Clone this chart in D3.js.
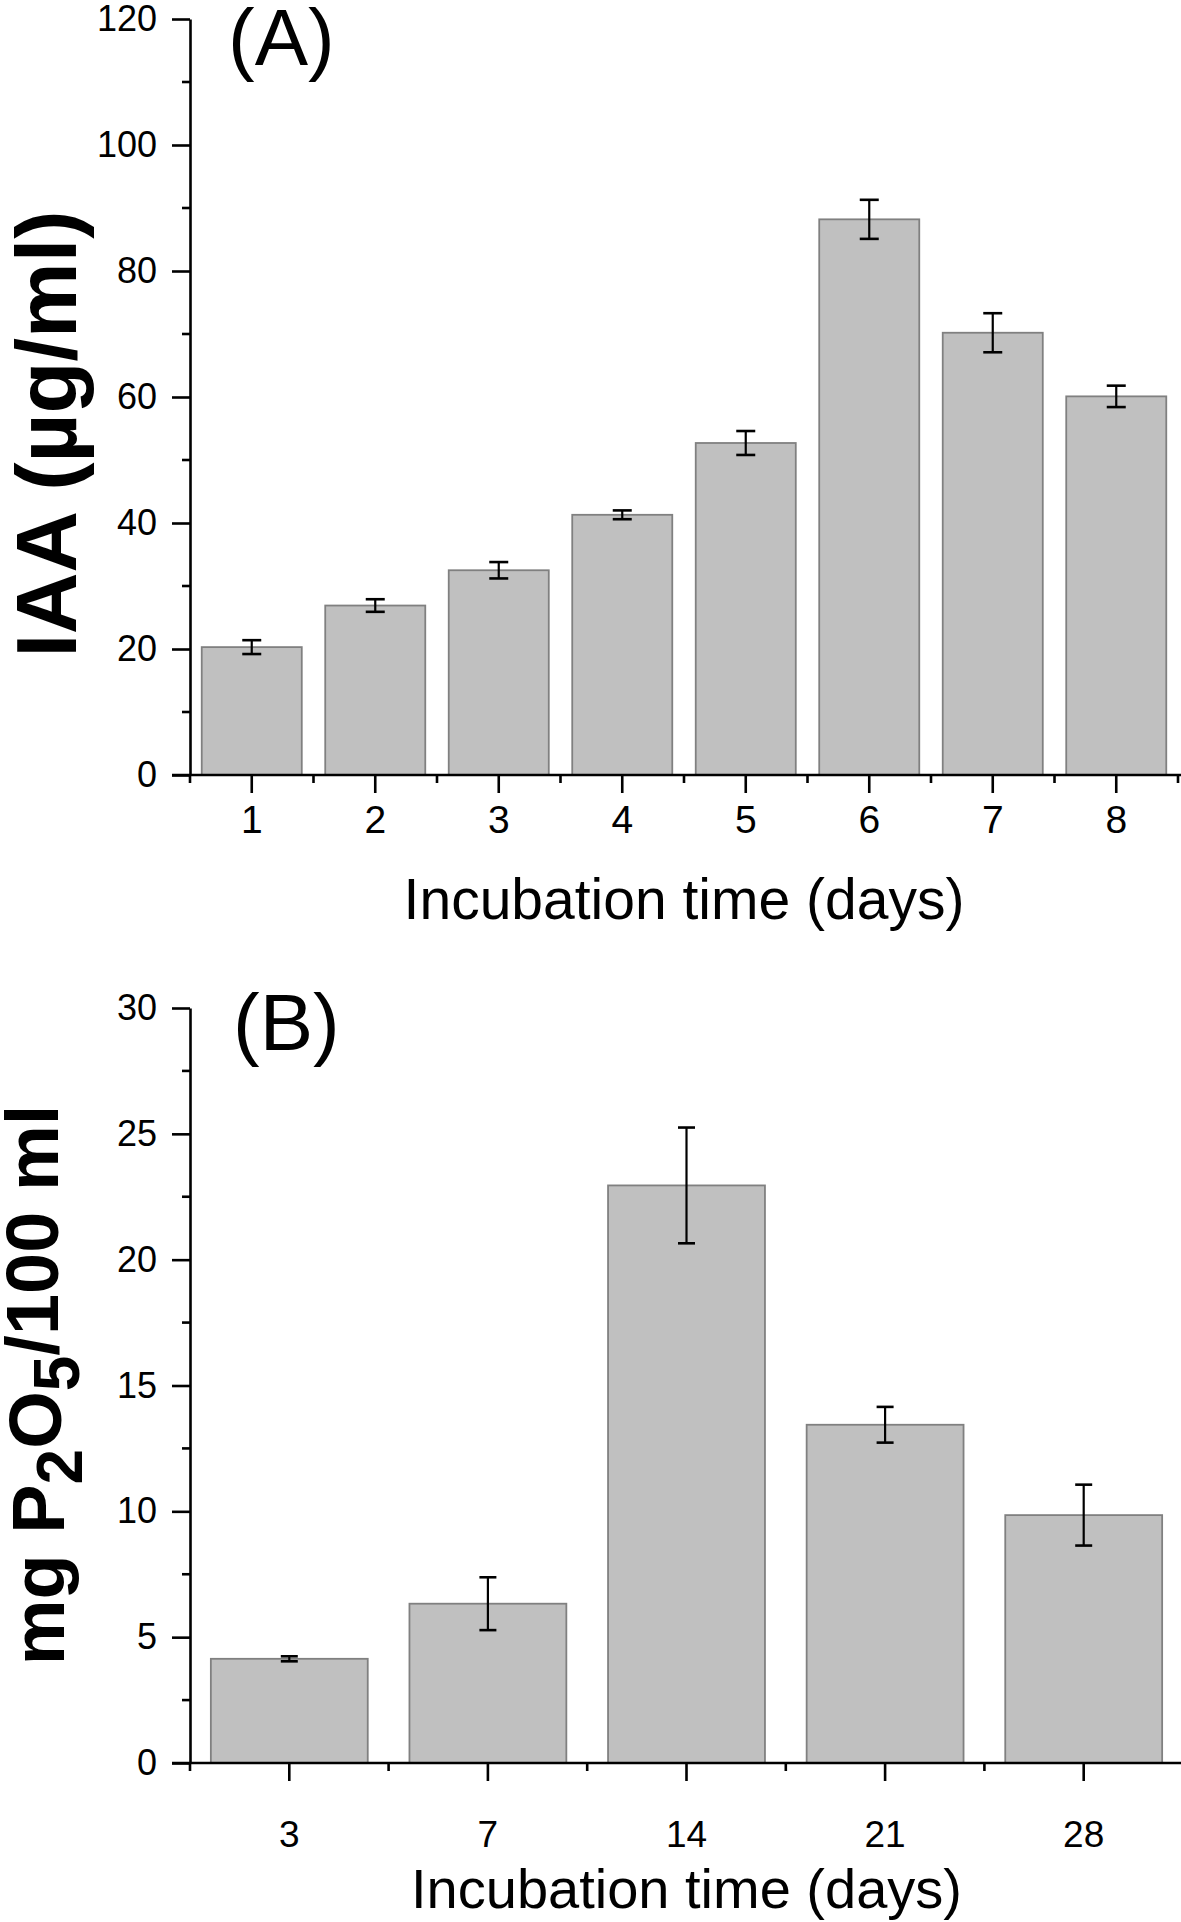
<!DOCTYPE html>
<html>
<head>
<meta charset="utf-8">
<script src="https://cdn.jsdelivr.net/npm/d3@7"></script>
<style>
  html, body { margin: 0; padding: 0; background: #fff; }
  svg { display: block; }
  text { font-family: "Liberation Sans", Arial, sans-serif; fill: #000; }
</style>
</head>
<body>
<svg id="chart" width="1181" height="1922"></svg>
<script>
// ---------- Data ----------
const daysA = ["1", "2", "3", "4", "5", "6", "7", "8"];
const iaaValues = [20.3, 26.9, 32.5, 41.3, 52.7, 88.2, 70.2, 60.1];
const iaaErrors = [1.1, 1.0, 1.3, 0.7, 1.9, 3.1, 3.1, 1.7];
const iaaTicks = [0, 20, 40, 60, 80, 100, 120];

const daysB = ["3", "7", "14", "21", "28"];
const pValues = [4.14, 6.33, 22.95, 13.44, 9.85];
const pErrors = [0.1, 1.05, 2.3, 0.71, 1.21];
const pTicks = [0, 5, 10, 15, 20, 25, 30];

const svg = d3.select("#chart");

function panel(cfg) {
  const g = svg.append("g");
  const x = d3.scaleBand().domain(cfg.cats).range([cfg.x0, cfg.x1]).paddingInner(cfg.pad).paddingOuter(cfg.pad / 2);
  const y = d3.scaleLinear().domain([0, cfg.ymax]).range([cfg.yb, cfg.yt]);
  const step = x.step();

  // bars
  g.selectAll("rect.bar").data(cfg.values).enter().append("rect")
    .attr("class", "bar")
    .attr("x", (d, i) => x(cfg.cats[i]))
    .attr("width", x.bandwidth())
    .attr("y", d => y(d))
    .attr("height", d => y(0) - y(d))
    .attr("fill", "#c0c0c0")
    .attr("stroke", "#808080")
    .attr("stroke-width", 1.8);

  // error bars
  const eb = g.selectAll("g.err").data(cfg.values).enter().append("g").attr("class", "err");
  eb.append("line")
    .attr("x1", (d, i) => x(cfg.cats[i]) + x.bandwidth() / 2)
    .attr("x2", (d, i) => x(cfg.cats[i]) + x.bandwidth() / 2)
    .attr("y1", (d, i) => y(d + cfg.errors[i]))
    .attr("y2", (d, i) => y(d - cfg.errors[i]))
    .attr("stroke", "#000").attr("stroke-width", 2.2);
  [1, -1].forEach(s => {
    eb.append("line")
      .attr("x1", (d, i) => x(cfg.cats[i]) + x.bandwidth() / 2 - cfg.cap / 2)
      .attr("x2", (d, i) => x(cfg.cats[i]) + x.bandwidth() / 2 + cfg.cap / 2)
      .attr("y1", (d, i) => y(d + s * cfg.errors[i]))
      .attr("y2", (d, i) => y(d + s * cfg.errors[i]))
      .attr("stroke", "#000").attr("stroke-width", 2.6);
  });

  // y axis
  const yAxis = d3.axisLeft(y).tickValues(cfg.yticks).tickSize(18).tickPadding(15).tickSizeOuter(0);
  const ya = g.append("g").attr("transform", `translate(${cfg.x0},0)`).call(yAxis);
  ya.select(".domain").attr("stroke-width", 2.6);
  ya.selectAll(".tick line").attr("stroke-width", 2.6);
  ya.selectAll(".tick text").style("font-size", cfg.yfs + "px").attr("font-family", "Liberation Sans, Arial, sans-serif");
  // y minor ticks
  const minorY = cfg.yticks.slice(0, -1).map((t, i) => (t + cfg.yticks[i + 1]) / 2);
  g.selectAll("line.ymin").data(minorY).enter().append("line")
    .attr("x1", cfg.x0 - 8).attr("x2", cfg.x0)
    .attr("y1", d => y(d)).attr("y2", d => y(d))
    .attr("stroke", "#000").attr("stroke-width", 2.6);

  // x axis
  const xAxis = d3.axisBottom(x).tickSize(18).tickPadding(cfg.xpad).tickSizeOuter(0);
  const xa = g.append("g").attr("transform", `translate(0,${cfg.yb})`).call(xAxis);
  xa.select(".domain").remove();
  xa.selectAll(".tick line").attr("stroke-width", 2.6);
  xa.selectAll(".tick text").style("font-size", cfg.xfs + "px").attr("font-family", "Liberation Sans, Arial, sans-serif");
  g.append("line")
    .attr("x1", cfg.x0 - 18).attr("x2", 1181)
    .attr("y1", cfg.yb).attr("y2", cfg.yb)
    .attr("stroke", "#000").attr("stroke-width", 2.6);
  // x minor ticks at band boundaries
  const bounds = d3.range(cfg.cats.length + 1).map(i => cfg.x0 + i * step);
  g.selectAll("line.xmin").data(bounds.filter(b => b <= 1181)).enter().append("line")
    .attr("x1", d => d).attr("x2", d => d)
    .attr("y1", cfg.yb).attr("y2", cfg.yb + 8)
    .attr("stroke", "#000").attr("stroke-width", 2.6);

  // x title
  g.append("text")
    .attr("x", (cfg.x0 + cfg.x1) / 2).attr("y", cfg.xtitleY)
    .attr("text-anchor", "middle")
    .style("font-size", cfg.xtfs + "px")
    .text("Incubation time (days)");

  // panel label
  g.append("text")
    .attr("x", cfg.labX).attr("y", cfg.labY)
    .style("font-size", "80px")
    .text(cfg.label);

  return g;
}

panel({
  cats: daysA, values: iaaValues, errors: iaaErrors, yticks: iaaTicks,
  x0: 190, x1: 1178, pad: 0.19, ymax: 120, yb: 775, yt: 19,
  cap: 19, yfs: 36, xfs: 39, xpad: 12, xtfs: 57, xtitleY: 919,
  label: "(A)", labX: 228, labY: 65
});

panel({
  cats: daysB, values: pValues, errors: pErrors, yticks: pTicks,
  x0: 190, x1: 1183, pad: 0.21, ymax: 30, yb: 1763, yt: 1008,
  cap: 17, yfs: 36, xfs: 37, xpad: 40, xtfs: 56, xtitleY: 1908,
  label: "(B)", labX: 233, labY: 1050
});

// y titles
svg.append("text")
  .attr("transform", "translate(76,434) rotate(-90)")
  .attr("text-anchor", "middle")
  .style("font-size", "85px").style("font-weight", "bold")
  .text("IAA (µg/ml)");

const tB = svg.append("text")
  .attr("transform", "translate(64,1385) rotate(-90)")
  .attr("text-anchor", "middle")
  .style("font-size", "74px").style("font-weight", "bold");
tB.append("tspan").text("mg P");
tB.append("tspan").attr("dy", "0.28em").style("font-size", "64px").text("2");
tB.append("tspan").attr("dy", "-0.28em").text("O");
tB.append("tspan").attr("dy", "0.28em").style("font-size", "64px").text("5");
tB.append("tspan").attr("dy", "-0.28em").text("/100 ml");
</script>
</body>
</html>
